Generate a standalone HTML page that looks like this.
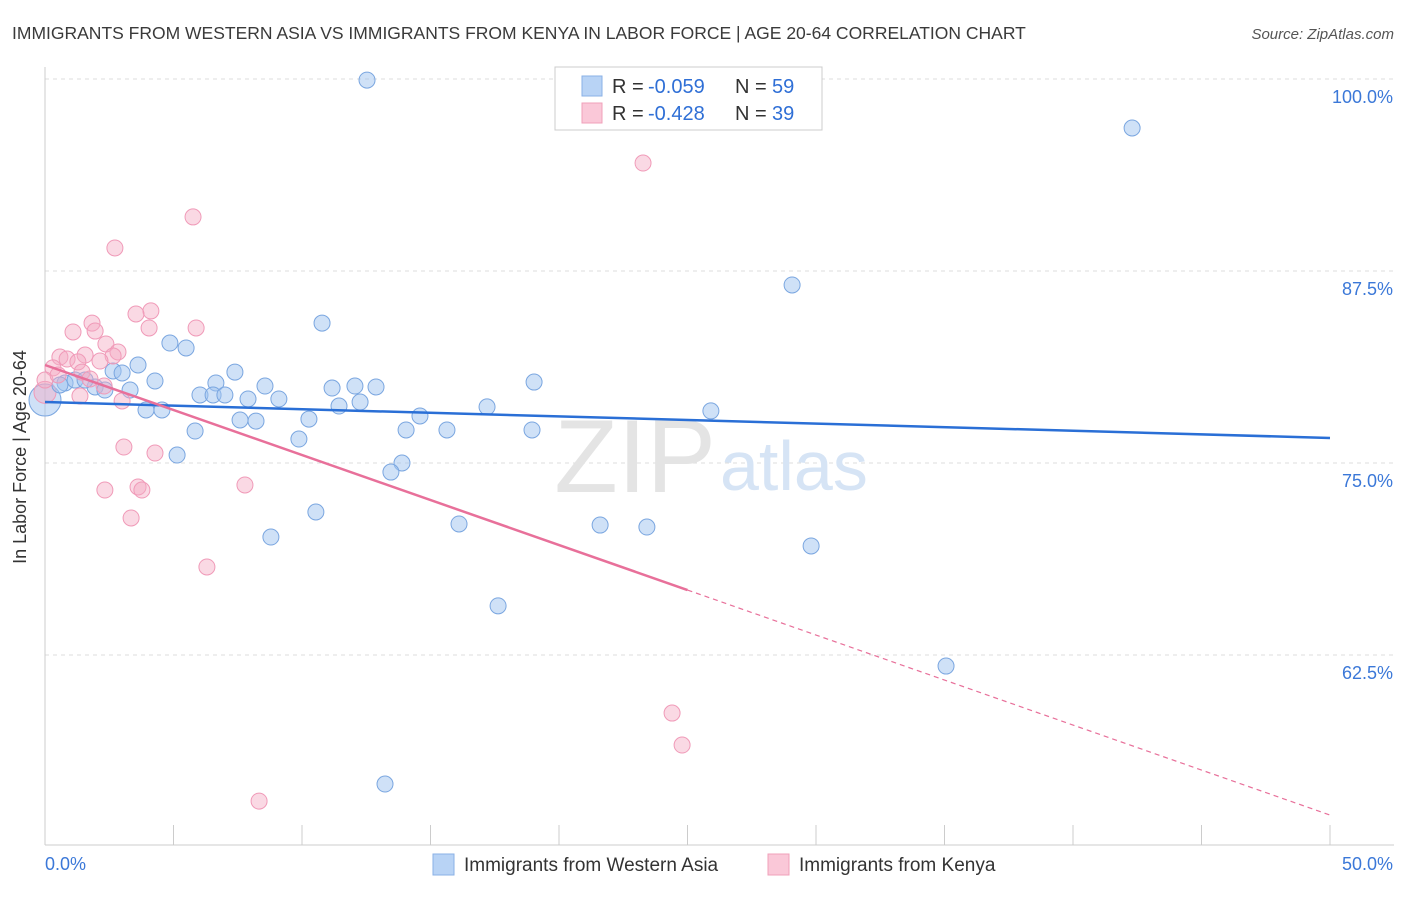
<!DOCTYPE html>
<html><head><meta charset="utf-8"><style>
body{margin:0;background:#fff;font-family:"Liberation Sans",sans-serif;}
svg text{font-family:"Liberation Sans",sans-serif;}
</style></head><body>
<svg id="chart" width="1406" height="892">
<text x="12" y="39" font-size="17.5" fill="#3a3a3a">IMMIGRANTS FROM WESTERN ASIA VS IMMIGRANTS FROM KENYA IN LABOR FORCE | AGE 20-64 CORRELATION CHART</text>
<text x="1394" y="39" font-size="15" fill="#555" font-style="italic" text-anchor="end">Source: ZipAtlas.com</text>
<g id="grid"></g>
<text x="716" y="492" font-size="104" fill="#e4e4e4" font-family="Liberation Serif" text-anchor="end">ZIP</text>
<text x="720" y="490" font-size="70" fill="#d6e4f5">atlas</text>
<text transform="translate(26,457) rotate(-90)" font-size="18" fill="#333" text-anchor="middle">In Labor Force | Age 20-64</text>
<g id="marks"></g>
<g>
<rect x="555" y="67" width="267" height="63" fill="#fff" stroke="#ccc"/>
<rect x="582" y="76" width="20" height="20" fill="#b8d3f5" stroke="#8ab0e6"/>
<rect x="582" y="103" width="20" height="20" fill="#fac8d8" stroke="#f0a0ba"/>
<text x="612" y="93" font-size="20" fill="#333">R =</text>
<text x="648" y="93" font-size="20" fill="#2f6fd6">-0.059</text>
<text x="735" y="93" font-size="20" fill="#333">N =</text>
<text x="772" y="93" font-size="20" fill="#2f6fd6">59</text>
<text x="612" y="120" font-size="20" fill="#333">R =</text>
<text x="648" y="120" font-size="20" fill="#2f6fd6">-0.428</text>
<text x="735" y="120" font-size="20" fill="#333">N =</text>
<text x="772" y="120" font-size="20" fill="#2f6fd6">39</text>
</g>
<g>
<rect x="433" y="854" width="21" height="21" fill="#b8d3f5" stroke="#8ab0e6"/>
<text x="464" y="871" font-size="19" fill="#333">Immigrants from Western Asia</text>
<rect x="768" y="854" width="21" height="21" fill="#fac8d8" stroke="#f0a0ba"/>
<text x="799" y="871" font-size="19" fill="#333">Immigrants from Kenya</text>
</g>
</svg>
<script>
const yTicks=[100,87.5,75,62.5];
const xTickLabels=["0.0%","50.0%"];
const blueX=[12.53,20.43,42.3,29.07,10.78,4.86,5.49,3.62,2.65,3.0,7.39,4.28,6.65,8.56,11.17,12.06,12.88,19.03,0.78,1.95,3.31,6.03,6.54,7.0,7.9,9.1,12.26,11.44,17.2,3.93,4.55,25.91,14.59,7.59,8.21,10.27,5.84,14.05,15.64,18.95,9.88,5.14,13.89,13.46,10.54,16.11,21.6,23.42,8.79,29.81,17.63,35.06,13.23,2.33,1.17,0.58,1.56];
const blueY=[99.93,99.93,96.81,86.59,84.11,82.81,82.49,81.38,80.99,80.86,80.92,80.34,80.21,80.01,79.88,80.01,79.95,80.27,80.21,79.95,79.75,79.43,79.43,79.43,79.17,79.17,78.97,78.71,78.65,78.45,78.45,78.39,78.06,77.8,77.73,77.86,77.08,77.15,77.15,77.15,76.56,75.52,75.0,74.41,71.81,71.03,70.96,70.83,70.18,69.6,65.7,61.78,54.1,79.75,80.4,80.08,80.4];
const pinkX=[23.27,5.76,2.72,4.12,3.54,1.83,5.88,4.05,1.09,1.95,2.37,2.84,1.56,0.58,0.86,2.65,2.14,1.28,0.31,1.44,0,0.51,1.75,2.3,3.0,1.36,3.07,4.28,3.62,3.77,2.33,7.78,3.35,6.3,24.4,24.79,8.33];
const pinkY=[94.53,91.02,89.0,84.9,84.7,84.11,83.79,83.79,83.53,83.59,82.75,82.23,82.03,81.9,81.77,81.97,81.64,81.58,81.19,80.92,80.4,80.73,80.47,80.01,79.04,79.36,76.04,75.65,73.44,73.24,73.24,73.57,71.42,68.23,58.72,56.64,52.99];
const blueBig=[0,79.1];
const pinkBig=[0,79.6];
const blueTrend=[78.97,76.63];
const pinkTrend=[81.38,52.08];
const X=v=>45+v*25.7, Y=v=>79+(100-v)*15.36;
const NS="http://www.w3.org/2000/svg";
const g=document.getElementById('grid'), m=document.getElementById('marks');
function mk(p,t,a){const e=document.createElementNS(NS,t);for(const k in a)e.setAttribute(k,a[k]);p.appendChild(e);return e;}
yTicks.forEach(v=>{
 const l=mk(g,'line',{x1:45,x2:1394,y1:Y(v),y2:Y(v),stroke:'#ddd','stroke-dasharray':'4,4'});
 
 
 const t=mk(g,'text',{x:1393,y:Y(v)+24,'font-size':18,fill:'#3b78d8','text-anchor':'end'});t.textContent=v.toFixed(1)+'%';
 
 
});
const ax=mk(g,'line',{x1:45,x2:1394,y1:845,y2:845,stroke:'#ccc'});


const ay=mk(g,'line',{x1:45,x2:45,y1:67,y2:845,stroke:'#ccc'});


for(let i=0;i<=10;i++){const t=mk(g,'line',{x1:X(i*5),x2:X(i*5),y1:825,y2:845,stroke:'#ccc'});
 
 }
[[0,'start',45],[50,'end',1393]].forEach((d,i)=>{const t=mk(g,'text',{x:d[2],y:870,'font-size':18,fill:'#3b78d8','text-anchor':d[1]});t.textContent=xTickLabels[i];
 
 });
function pts(xs,ys,fill,stroke,name){xs.forEach((x,i)=>{const c=mk(m,'circle',{cx:X(x),cy:Y(ys[i]),r:8,fill:fill,stroke:stroke,'stroke-width':1});
 
 });}
let c=mk(m,'circle',{cx:X(blueBig[0]),cy:Y(blueBig[1]),r:16,fill:'rgba(160,196,240,0.5)',stroke:'#7aa6e0'});


c=mk(m,'circle',{cx:X(pinkBig[0]),cy:Y(pinkBig[1]),r:11,fill:'rgba(245,170,195,0.45)',stroke:'#f09ab8'});


pts(blueX,blueY,'rgba(160,196,240,0.5)','#7aa6e0','western-asia-point');
pts(pinkX,pinkY,'rgba(245,170,195,0.45)','#f09ab8','kenya-point');
let l=mk(m,'line',{x1:X(0),y1:Y(blueTrend[0]),x2:X(50),y2:Y(blueTrend[1]),stroke:'#2a6fd6','stroke-width':2.5});


const pm=(pinkTrend[0]+pinkTrend[1])/2;
l=mk(m,'line',{x1:X(0),y1:Y(pinkTrend[0]),x2:X(25),y2:Y(pm),stroke:'#e8709a','stroke-width':2.5});


l=mk(m,'line',{x1:X(25),y1:Y(pm),x2:X(50),y2:Y(pinkTrend[1]),stroke:'#e8709a','stroke-width':1.2,'stroke-dasharray':'5,4'});


</script>
</body></html>
